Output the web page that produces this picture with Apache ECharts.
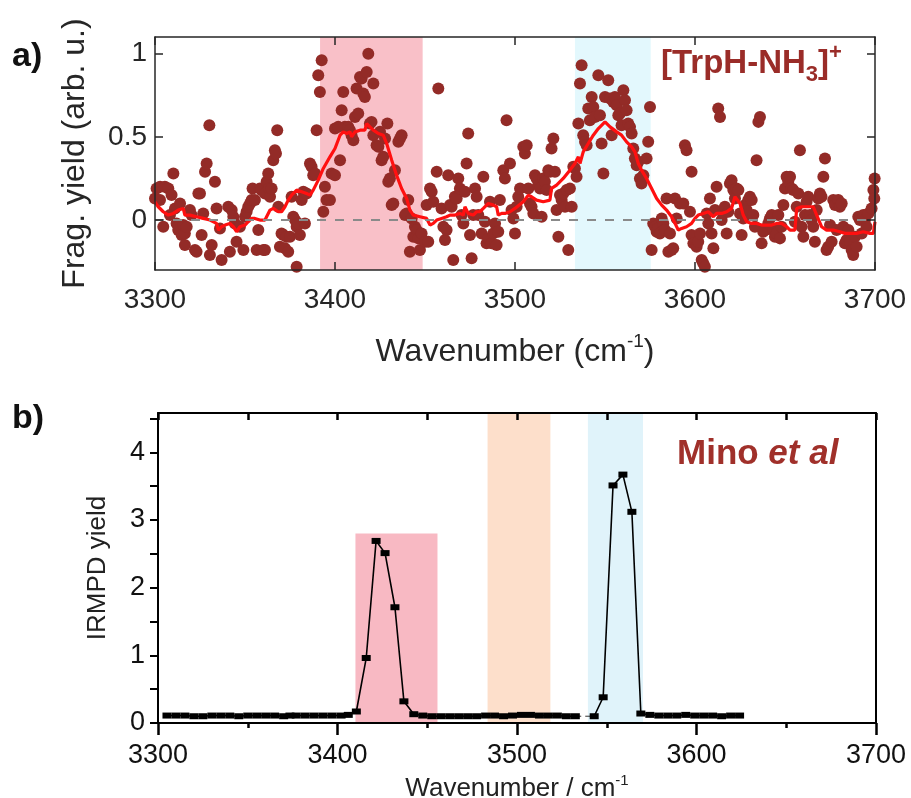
<!DOCTYPE html>
<html>
<head>
<meta charset="utf-8">
<script src="https://cdn.jsdelivr.net/npm/echarts@6/dist/echarts.min.js"></script>
<style>html,body{margin:0;padding:0;background:#fff}#c{width:911px;height:798px}</style>
</head>
<body>
<div id="c"></div>
<script>
// ---------- DATA ----------
const xTicks = [3300, 3400, 3500, 3600, 3700];
const aYTicks = [0, 0.5, 1];
const bYLabels = [0, 1, 2, 3, 4];
const bYTicks = [0, 0.5, 1, 1.5, 2, 2.5, 3, 3.5, 4, 4.5];

// panel a: shaded bands [from, to]
const aBands = [[3391.7, 3448.7], [3533.3, 3575.4]];
// panel b: shaded bands [from, to, top (null = full)]
const bBands = [[3410, 3455.7, 2.8], [3483.6, 3518.6, null], [3539.5, 3570.2, null]];

// panel a: measured fragmentation yield (dots)
const aDots = [
[3300.0,0.13],[3300.9,0.19],[3302.8,0.20],[3305.5,0.20],[3307.4,0.19],[3302.8,0.12],[3309.2,0.15],[3310.2,0.28],[3311.1,0.07],[3304.6,-0.04],[3308.3,0.03],[3312.0,-0.02],[3312.9,-0.06],[3314.8,-0.09],[3313.9,0.10],[3315.7,-0.03],[3316.6,-0.08],[3317.6,-0.04],[3319.4,0.06],[3320.3,0.03],[3316.6,-0.15],[3322.2,-0.18],[3323.1,-0.19],[3324.1,0.16],[3325.0,0.16],[3325.9,-0.09],[3326.8,0.04],[3327.8,0.29],[3328.7,0.34],[3330.2,0.57],[3331.5,-0.15],[3330.5,-0.21],[3333.3,0.23],[3334.2,0.07],[3336.1,-0.05],[3337.0,-0.24],[3340.7,0.08],[3341.6,-0.19],[3342.6,0.06],[3343.5,0.02],[3344.4,-0.02],[3345.3,-0.13],[3347.2,-0.04],[3349.1,-0.18],[3350.0,0.02],[3350.9,0.05],[3351.8,0.08],[3352.8,0.10],[3353.7,0.12],[3354.2,0.19],[3355.5,0.12],[3356.5,-0.18],[3357.4,-0.06],[3358.3,0.19],[3359.2,0.18],[3360.2,-0.18],[3361.1,-0.18],[3361.1,0.16],[3362.0,0.23],[3362.9,0.28],[3363.5,0.19],[3363.9,0.14],[3364.8,0.19],[3365.7,0.36],[3366.6,0.42],[3367.2,0.40],[3367.9,0.54],[3368.5,0.08],[3369.4,-0.16],[3370.3,-0.08],[3371.3,-0.09],[3372.2,-0.17],[3373.1,-0.10],[3374.0,-0.19],[3375.0,-0.10],[3375.9,0.14],[3376.8,0.02],[3377.8,0.00],[3378.7,-0.04],[3378.7,-0.28],[3379.6,-0.02],[3380.5,-0.09],[3381.5,0.12],[3382.4,0.17],[3383.3,-0.02],[3384.2,0.16],[3386.1,0.34],[3387.0,0.32],[3387.9,0.27],[3388.9,0.28],[3389.8,0.54],[3390.7,0.87],[3391.6,0.77],[3392.6,0.96],[3393.5,0.05],[3394.4,0.20],[3395.3,0.12],
[3398.1,0.28],[3400.0,0.27],[3397.2,0.12],[3402.8,0.36],[3403.7,0.66],[3404.6,0.77],[3405.5,0.56],[3400.0,0.55],[3401.8,0.56],[3407.4,0.56],[3408.3,0.54],[3409.2,0.51],[3410.2,0.48],[3411.1,0.62],[3412.0,0.79],[3412.9,0.64],[3413.9,0.86],[3414.8,0.85],[3415.7,0.76],[3416.6,0.74],[3417.6,0.89],[3418.5,1.00],[3419.4,0.58],[3420.3,0.59],[3421.3,0.82],[3421.3,0.51],[3423.1,0.45],[3424.1,0.44],[3425.0,0.53],[3425.9,0.36],[3426.8,0.38],[3427.8,0.49],[3429.1,0.58],[3429.6,0.23],[3430.5,0.25],[3431.5,0.09],[3432.4,0.10],[3433.3,0.30],[3435.2,0.47],[3436.1,0.49],[3437.0,0.51],[3438.9,0.03],[3439.8,0.04],[3440.7,0.12],[3441.6,-0.19],[3442.6,0.01],[3443.5,-0.10],[3444.4,-0.04],[3445.3,-0.06],[3446.3,-0.11],[3447.2,-0.18],[3448.1,-0.08],[3450.0,-0.13],[3450.9,0.09],[3451.8,-0.13],[3452.8,0.19],[3453.7,0.17],[3454.6,0.11],[3456.5,0.29],[3457.4,0.79],[3459.2,0.07],[3460.2,-0.04],[3461.1,-0.12],[3462.0,-0.06],[3462.9,0.27],[3463.9,0.09],[3464.8,0.08],[3465.7,-0.24],[3466.6,0.14],[3467.6,0.13],[3468.5,0.25],[3469.4,0.19],[3470.3,0.03],[3471.3,-0.02],[3472.2,0.17],[3473.1,0.34],[3474.0,0.52],[3475.0,-0.09],[3475.9,-0.23],[3476.8,0.03],[3477.8,0.19],[3478.7,0.14],[3479.6,0.03],[3481.5,-0.08],[3482.4,0.26],[3483.3,-0.01],[3484.2,-0.14],[3485.2,-0.11],[3486.1,0.11],[3487.0,-0.14],[3487.9,-0.08],[3488.9,-0.02],[3489.8,-0.15],[3490.7,-0.07],[3491.6,0.12],[3493.5,0.30],[3494.4,0.25],[3495.3,0.60],[3497.2,0.34],[3498.1,0.06],[3499.1,0.01],[3500.0,-0.08],
[3500.9,0.08],[3501.8,0.14],[3502.8,0.19],[3504.6,0.44],[3505.5,0.40],[3506.5,0.45],[3507.4,0.19],[3508.3,0.10],[3509.2,0.08],[3510.2,0.04],[3511.1,0.27],[3512.0,0.25],[3512.9,0.21],[3513.9,0.19],[3514.8,0.02],[3515.7,0.25],[3516.6,0.23],[3517.6,0.18],[3518.5,0.30],[3519.4,0.29],[3520.3,0.43],[3521.3,0.49],[3522.2,0.29],[3523.1,0.06],[3524.1,-0.10],[3525.0,0.15],[3525.9,0.12],[3526.8,0.16],[3527.8,0.08],[3528.7,0.18],[3529.6,-0.18],[3530.5,0.19],[3531.5,0.08],[3532.4,0.32],[3533.3,0.31],[3534.2,0.26],[3535.2,0.58],[3536.1,0.82],[3537.0,0.93],[3537.9,0.51],[3538.9,0.47],[3539.8,0.45],[3540.7,0.67],[3541.6,0.60],[3542.6,0.74],[3543.5,0.68],[3544.4,0.62],[3546.3,0.87],[3547.2,0.63],[3548.1,0.46],[3549.1,0.28],[3550.0,0.74],[3551.8,0.84],[3552.8,0.73],[3553.7,0.51],[3554.6,0.71],[3555.5,0.74],[3556.5,0.69],[3557.4,0.63],[3558.3,0.64],[3559.2,0.57],[3560.2,0.78],[3561.1,0.72],[3562.0,0.66],[3562.9,0.58],[3563.9,0.56],[3564.8,0.52],[3565.7,0.43],[3566.6,0.37],[3567.6,0.33],[3568.5,0.35],[3569.4,0.25],[3570.3,0.22],[3571.3,0.27],[3573.1,0.37],[3574.0,0.47],[3575.0,0.68],[3575.9,-0.18],[3576.8,-0.02],[3577.8,-0.04],[3578.7,-0.07],[3579.6,-0.05],[3580.5,-0.08],[3581.5,0.01],[3582.4,-0.02],[3583.3,-0.06],[3584.2,0.13],[3585.2,-0.19],[3586.1,-0.08],[3587.0,-0.18],[3587.9,-0.17],[3588.9,0.13],[3589.8,0.01],[3591.6,0.10],[3593.5,0.10],[3594.4,0.45],[3595.3,0.42],[3597.2,0.05],[3598.1,0.29],
[3598.1,-0.09],[3599.1,-0.14],[3600.9,-0.16],[3601.8,-0.13],[3602.8,-0.08],[3603.7,-0.24],[3604.6,-0.26],[3605.5,-0.28],[3606.5,0.04],[3607.4,-0.02],[3608.3,0.13],[3609.2,-0.08],[3610.2,-0.17],[3611.1,0.06],[3612.0,0.20],[3612.9,0.67],[3613.9,0.62],[3614.8,0.00],[3615.7,0.04],[3616.6,0.08],[3617.6,-0.08],[3618.5,0.05],[3619.4,0.22],[3620.3,0.24],[3621.3,0.18],[3622.2,0.13],[3623.1,0.19],[3624.1,0.18],[3625.0,0.04],[3625.9,-0.09],[3626.8,0.01],[3627.8,0.09],[3628.7,0.06],[3629.6,0.12],[3630.5,0.14],[3631.5,0.12],[3632.4,0.03],[3633.3,-0.04],[3634.2,0.36],[3635.2,0.59],[3636.1,0.62],[3637.0,-0.14],[3637.9,-0.07],[3638.9,-0.06],[3640.7,-0.02],[3641.6,0.01],[3642.6,0.03],[3643.5,-0.06],[3644.4,-0.10],[3645.3,-0.08],[3646.3,0.03],[3647.2,-0.11],[3648.1,-0.04],[3649.1,0.09],[3650.0,0.19],[3650.9,0.26],[3651.8,0.23],[3652.8,0.26],[3653.7,0.19],[3654.6,0.18],[3655.5,-0.01],[3656.5,0.08],[3657.4,0.16],[3658.3,0.42],[3659.2,-0.04],[3660.2,-0.10],[3661.1,0.03],[3662.0,0.11],[3662.9,0.14],[3663.9,0.03],[3664.8,0.00],[3665.7,-0.04],[3666.6,-0.13],[3667.6,0.06],[3668.5,0.13],[3669.4,0.16],[3670.3,0.14],[3671.3,0.26],[3672.2,0.37],[3673.1,-0.18],[3674.0,-0.16],[3675.0,-0.03],[3675.9,-0.13],[3676.8,0.12],[3677.8,0.09],[3678.7,-0.06],[3679.6,0.12],[3680.5,0.08],[3681.5,0.10],[3682.4,-0.04],[3683.3,-0.14],[3684.2,-0.12],[3685.2,-0.06],[3686.1,-0.13],[3687.0,-0.18],[3687.9,-0.21],[3688.9,-0.10],[3689.8,-0.16],[3690.7,0.02],[3691.6,0.00],[3692.6,-0.08],[3693.5,0.03],[3694.4,0.00],[3695.3,-0.04],[3696.3,0.04],[3698.1,0.07],[3699.1,0.18],[3699.8,0.25],[3699.6,0.13]
];

// panel a: smoothed trace (red line)
const aSmooth = [
[3300.0,0.11],[3301.8,0.08],[3304.6,0.05],[3307.4,0.03],[3310.2,0.04],[3312.9,0.06],[3315.7,0.07],[3316.6,0.03],[3319.4,0.03],[3323.1,0.02],[3326.8,0.01],[3330.5,0.00],[3334.2,-0.02],[3335.2,-0.06],[3337.0,-0.04],[3338.9,-0.03],[3341.6,-0.02],[3343.5,-0.04],[3345.3,-0.07],[3347.2,-0.04],[3350.0,-0.03],[3351.8,-0.01],[3353.7,0.01],[3355.5,0.01],[3358.3,0.00],[3361.1,0.00],[3363.9,0.06],[3365.7,0.07],[3368.5,0.05],[3370.3,0.05],[3372.2,0.08],[3374.0,0.12],[3375.9,0.15],[3378.7,0.18],[3381.5,0.17],[3384.2,0.16],[3386.1,0.15],[3387.9,0.18],[3390.7,0.24],[3393.5,0.31],[3397.2,0.38],
[3400.0,0.43],[3402.8,0.51],[3404.6,0.53],[3406.5,0.52],[3408.3,0.53],[3409.2,0.50],[3411.1,0.53],[3413.9,0.54],[3416.6,0.54],[3417.6,0.58],[3419.4,0.56],[3421.3,0.54],[3424.1,0.52],[3426.8,0.51],[3428.7,0.46],[3431.5,0.36],[3434.2,0.27],[3437.0,0.19],[3439.8,0.13],[3441.6,0.06],[3443.5,0.03],[3447.2,0.02],[3450.9,0.01],[3452.8,-0.03],[3454.6,-0.02],[3456.5,0.00],[3459.2,0.01],[3462.0,0.02],[3463.9,0.03],[3466.6,0.03],[3469.4,0.04],[3471.3,0.03],[3472.2,0.08],[3474.0,0.04],[3476.8,0.03],[3478.7,0.05],[3480.5,0.05],[3482.4,0.07],[3485.2,0.10],[3487.9,0.09],[3489.8,0.08],[3490.7,0.03],[3492.6,0.04],[3494.4,0.04],[3497.2,0.05],[3500.0,0.07],
[3500.9,0.07],[3504.6,0.11],[3507.4,0.15],[3509.2,0.14],[3512.0,0.12],[3515.7,0.11],[3519.4,0.12],[3520.3,0.19],[3523.1,0.21],[3526.8,0.25],[3530.5,0.30],[3533.3,0.34],[3535.2,0.38],[3536.1,0.34],[3537.9,0.41],[3540.7,0.46],[3543.5,0.51],[3546.3,0.55],[3550.0,0.59],[3552.8,0.56],[3556.5,0.53],[3559.2,0.51],[3562.0,0.47],[3564.8,0.44],[3566.6,0.41],[3568.5,0.34],[3570.3,0.30],[3573.1,0.25],[3575.9,0.19],[3578.7,0.13],[3581.5,0.09],[3584.2,0.06],[3587.0,0.02],[3588.9,-0.02],[3590.7,-0.06],[3592.6,-0.05],[3595.3,-0.04],[3598.1,-0.02],
[3600.0,0.01],[3601.8,0.03],[3604.6,0.04],[3607.4,0.05],[3610.2,0.02],[3612.0,0.04],[3614.8,0.04],[3617.6,0.05],[3620.3,0.07],[3622.2,0.14],[3623.1,0.15],[3625.0,0.10],[3626.8,0.03],[3628.7,-0.01],[3631.5,-0.02],[3634.2,-0.02],[3637.0,-0.03],[3639.8,-0.03],[3642.6,-0.03],[3645.3,-0.02],[3648.1,-0.02],[3650.9,-0.04],[3652.8,-0.06],[3655.5,-0.06],[3656.5,0.07],[3659.2,0.08],[3662.0,0.08],[3665.7,0.08],[3667.6,0.03],[3670.3,-0.04],[3673.1,-0.06],[3676.8,-0.06],[3680.5,-0.07],[3683.3,-0.08],[3686.1,-0.08],[3689.8,-0.08],[3693.5,-0.07],[3697.2,-0.08],[3699.1,-0.08],[3700.0,-0.01]
];

// panel b: IRMPD yield (Mino et al), drawn in pieces as in the original
const bSeg1 = [[3305,0.11],[3310,0.11],[3315,0.11],[3320,0.10],[3325,0.10],[3330,0.11],[3335,0.11],[3340,0.11],[3345,0.10],[3350,0.11],[3355,0.11],[3360,0.11],[3365,0.11],[3370,0.10],[3373.5,0.11]];
const bSeg2 = [[3377,0.11],[3382,0.11],[3387,0.11],[3392,0.11],[3397,0.11],[3402,0.11],[3406,0.12],[3410.5,0.17],[3416,0.96],[3421.5,2.69],[3426.5,2.51],[3432,1.71],[3437,0.32],[3442.5,0.13],[3447.5,0.11],[3452.5,0.10],[3457.5,0.10],[3462.5,0.10],[3467.5,0.10],[3472.5,0.10],[3477.5,0.10],[3482.5,0.11],[3487.5,0.11],[3492.5,0.10],[3497.5,0.11],[3502.5,0.12],[3507.5,0.12],[3512.5,0.11],[3517.5,0.11],[3522.5,0.11],[3527.5,0.10],[3532.5,0.10]];
const bGap = [[3533,0.10],[3543,0.10]];
const bSeg3 = [[3543,0.10],[3548,0.38],[3553.5,3.51],[3559,3.67],[3564,3.12],[3569,0.14],[3574,0.12],[3579,0.11],[3584,0.11],[3589,0.11],[3594,0.12],[3599,0.11],[3604,0.11],[3609,0.11],[3614,0.10],[3619,0.11],[3624,0.11]];

// ---------- CHART ----------
const FONT = '"Liberation Sans", Arial, sans-serif';
const A_COL = '#262626';
const chart = echarts.init(document.getElementById('c'), null, {renderer: 'canvas'});

const aBandColors = ['#f9c0c8', '#e3f8fd'];
const bBandColors = ['#f8b9c3', '#fddfcb'];
const plain = v => String(v);

const lineSeg = (data, extra) => Object.assign({
  type: 'line', xAxisIndex: 2, yAxisIndex: 2, data: data, z: 3,
  symbol: 'rect', symbolSize: [9, 6], showSymbol: true,
  itemStyle: {color: '#000'}, lineStyle: {color: '#000', width: 1.6}, silent: true
}, extra || {});

const option = {
  animation: false,
  textStyle: {fontFamily: FONT},
  grid: [
    {left: 155, top: 37, width: 720, height: 233, outerBoundsMode: 'none', containLabel: false},
    {left: 158, top: 413, width: 718, height: 310, outerBoundsMode: 'none', containLabel: false}
  ],
  xAxis: [
    {gridIndex: 0, type: 'value', min: xTicks[0], max: xTicks[xTicks.length-1], interval: 100, z: 10,
     axisLine: {onZero: false, lineStyle: {color: A_COL, width: 1.5}}, axisTick: {inside: true, length: 8, lineStyle: {color: A_COL, width: 1.5}},
     axisLabel: {fontSize: 28, color: A_COL, margin: 16, fontFamily: FONT, formatter: plain}, splitLine: {show: false},
     name: 'Wavenumber (cm{sup|-1})', nameLocation: 'middle', nameGap: 62,
     nameTextStyle: {fontSize: 32, color: A_COL, fontFamily: FONT, lineHeight: 40,
       rich: {sup: {fontSize: 19, color: A_COL, fontFamily: FONT, lineHeight: 40, verticalAlign: 'top'}}}},
    {gridIndex: 0, type: 'value', position: 'top', min: xTicks[0], max: xTicks[xTicks.length-1], interval: 100, z: 10,
     axisLine: {onZero: false, lineStyle: {color: A_COL, width: 1.5}}, axisTick: {inside: true, length: 8, lineStyle: {color: A_COL, width: 1.5}},
     axisLabel: {show: false}, splitLine: {show: false}},
    {gridIndex: 1, type: 'value', min: xTicks[0], max: xTicks[xTicks.length-1], interval: 100, z: 10,
     axisLine: {onZero: false, lineStyle: {color: '#000', width: 2}}, axisTick: {inside: false, length: 12, lineStyle: {color: '#000', width: 2.5}},
     minorTick: {show: true, splitNumber: 2, length: 5, lineStyle: {color: '#000', width: 2.5}},
     axisLabel: {fontSize: 27, color: '#111', margin: 19, fontFamily: FONT, formatter: plain}, splitLine: {show: false},
     name: 'Wavenumber / cm{sup|-1}', nameLocation: 'middle', nameGap: 50,
     nameTextStyle: {fontSize: 26, color: '#222', fontFamily: FONT, lineHeight: 32,
       rich: {sup: {fontSize: 15, color: '#222', fontFamily: FONT, lineHeight: 32, verticalAlign: 'top'}}}},
    {gridIndex: 1, type: 'value', position: 'top', min: xTicks[0], max: xTicks[xTicks.length-1], interval: 50, z: 10,
     axisLine: {onZero: false, lineStyle: {color: '#000', width: 2}}, axisTick: {inside: true, length: 7, lineStyle: {color: '#000', width: 2.5}},
     axisLabel: {show: false}, splitLine: {show: false}}
  ],
  yAxis: [
    {gridIndex: 0, type: 'value', min: -0.3, max: 1.1, z: 10,
     axisLine: {show: true, onZero: false, lineStyle: {color: A_COL, width: 1.5}},
     axisTick: {show: true, inside: true, length: 8, customValues: aYTicks, lineStyle: {color: A_COL, width: 1.5}},
     axisLabel: {fontSize: 28, color: A_COL, margin: 8, customValues: aYTicks, fontFamily: FONT}, splitLine: {show: false},
     name: 'Frag. yield (arb. u.)', nameLocation: 'middle', nameGap: 64,
     nameTextStyle: {fontSize: 32, color: A_COL, fontFamily: FONT}},
    {gridIndex: 0, type: 'value', position: 'right', min: -0.3, max: 1.1, z: 10,
     axisLine: {show: true, onZero: false, lineStyle: {color: A_COL, width: 1.5}},
     axisTick: {show: true, inside: true, length: 8, customValues: aYTicks, lineStyle: {color: A_COL, width: 1.5}},
     axisLabel: {show: false}, splitLine: {show: false}},
    {gridIndex: 1, type: 'value', min: 0, max: 4.58, z: 10,
     axisLine: {show: true, onZero: false, lineStyle: {color: '#000', width: 2}},
     axisTick: {show: true, inside: false, length: 8, customValues: bYTicks, lineStyle: {color: '#000', width: 2}},
     axisLabel: {fontSize: 27, color: '#111', margin: 13, customValues: bYLabels, fontFamily: FONT}, splitLine: {show: false},
     name: 'IRMPD yield', nameLocation: 'middle', nameGap: 47,
     nameTextStyle: {fontSize: 26, color: '#222', fontFamily: FONT}},
    {gridIndex: 1, type: 'value', position: 'right', min: 0, max: 4.58, z: 10,
     axisLine: {show: true, onZero: false, lineStyle: {color: '#000', width: 2}},
     axisTick: {show: false}, axisLabel: {show: false}, splitLine: {show: false}}
  ],
  series: [
    // panel a bands
    {type: 'line', xAxisIndex: 0, yAxisIndex: 0, data: [], z: 1, silent: true,
     markArea: {silent: true, data: aBands.map((b, i) => [{xAxis: b[0], itemStyle: {color: aBandColors[i]}}, {xAxis: b[1]}])}},
    // panel a zero line
    {type: 'line', xAxisIndex: 0, yAxisIndex: 0, data: [], z: 2, silent: true,
     markLine: {silent: true, symbol: 'none', label: {show: false},
       lineStyle: {color: '#8a8a8a', type: [9, 9], width: 2}, data: [{yAxis: 0}]}},
    // panel a dots
    {type: 'scatter', xAxisIndex: 0, yAxisIndex: 0, data: aDots, z: 3, symbolSize: 12, silent: true,
     itemStyle: {color: '#932b27', opacity: 1}},
    // panel a smoothed trace
    {type: 'line', xAxisIndex: 0, yAxisIndex: 0, data: aSmooth, z: 4, showSymbol: false, silent: true,
     lineStyle: {color: '#ff1010', width: 3.2}},
    // panel b bands (pink, orange)
    {type: 'line', xAxisIndex: 2, yAxisIndex: 2, data: [], z: 1, silent: true,
     markArea: {silent: true, data: bBands.slice(0, 2).map((b, i) => b[2] == null
        ? [{xAxis: b[0], itemStyle: {color: bBandColors[i]}}, {xAxis: b[1]}]
        : [{xAxis: b[0], yAxis: 0, itemStyle: {color: bBandColors[i]}}, {xAxis: b[1], yAxis: b[2]}])}},
    lineSeg(bSeg1),
    lineSeg(bSeg2),
    lineSeg(bGap, {symbol: 'none', showSymbol: false, lineStyle: {color: '#333', width: 1, type: [5, 4]}}),
    lineSeg(bSeg3),
    // panel b blue band (translucent, over the trace)
    {type: 'line', xAxisIndex: 2, yAxisIndex: 2, data: [], z: 5, silent: true,
     markArea: {silent: true, data: [[{xAxis: bBands[2][0], itemStyle: {color: 'rgba(120,205,235,0.23)'}}, {xAxis: bBands[2][1]}]]}}
  ],
  graphic: [
    {type: 'text', left: 12, top: 40, style: {text: 'a)', font: 'bold 34px ' + FONT, fill: '#111'}},
    {type: 'text', left: 12, top: 402, style: {text: 'b)', font: 'bold 34px ' + FONT, fill: '#111'}},
    {type: 'text', left: 661, top: 42, style: {
      text: '{m|[TrpH-NH}{s|3}{m|]}{p|+}',
      rich: {
        m: {fontSize: 33, fontWeight: 'bold', fontFamily: FONT, fill: '#9a2c28', lineHeight: 44, verticalAlign: 'middle'},
        s: {fontSize: 22, fontWeight: 'bold', fontFamily: FONT, fill: '#9a2c28', lineHeight: 44, verticalAlign: 'bottom'},
        p: {fontSize: 22, fontWeight: 'bold', fontFamily: FONT, fill: '#9a2c28', lineHeight: 44, verticalAlign: 'top'}
      }}},
    {type: 'text', left: 677, top: 437, style: {
      text: '{m|Mino }{i|et al}',
      rich: {
        m: {fontSize: 35, fontWeight: 'bold', fontFamily: FONT, fill: '#a0302a'},
        i: {fontSize: 35, fontWeight: 'bold', fontStyle: 'italic', fontFamily: FONT, fill: '#a0302a'}
      }}}
  ]
};
chart.setOption(option);
</script>
</body>
</html>
